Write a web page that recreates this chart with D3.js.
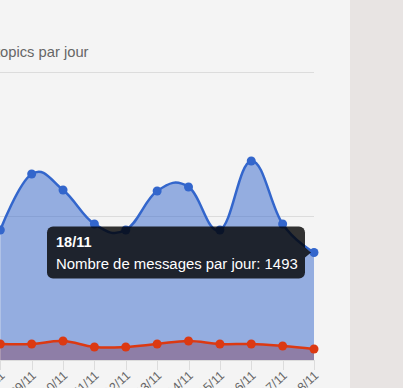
<!DOCTYPE html>
<html><head><meta charset="utf-8">
<script src="https://cdn.jsdelivr.net/npm/d3@7"></script>
<style>
html,body{margin:0;padding:0;background:#f4f4f4;overflow:hidden;}
svg{display:block;font-family:"Liberation Sans",Arial,sans-serif;}
</style></head><body>
<svg id="c" width="403" height="388"></svg>
<script>
const labels = ["08/11","09/11","10/11","11/11","12/11","13/11","14/11","15/11","16/11","17/11","18/11"];
const messages = [1806,2583,2361,1889,1806,2347,2403,1806,2764,1889,1493];
const topics = [222,222,264,181,181,222,264,222,222,194,153];
const yTicks = [0,2000,4000];
const legendText = "Nombre de topics par jour";
const tipTitle = "18/11";
const tipBody = "Nombre de messages par jour: 1493";

const svg = d3.select("#c");
svg.append("rect").attr("x",350).attr("y",0).attr("width",53).attr("height",388).attr("fill","#e8e4e3");

const x = d3.scalePoint().domain(labels).range([0.3,314]);
const y = d3.scaleLinear().domain([0,4000]).range([360,72]);

// gridlines
svg.append("g").selectAll("line").data(yTicks).join("line")
  .attr("x1",-50).attr("x2",314).attr("y1",d=>y(d)+0.5).attr("y2",d=>y(d)+0.5)
  .attr("stroke","#dcdcdc").attr("stroke-width",1);

// tick marks
svg.append("g").selectAll("line").data(labels).join("line")
  .attr("x1",d=>Math.round(x(d))+0.5).attr("x2",d=>Math.round(x(d))+0.5)
  .attr("y1",360).attr("y2",370).attr("stroke","#dcdcdc");

const curve = d3.curveCardinal.tension(-0.2);
const areaGen = vals => d3.area().x((d,i)=>x(labels[i])).y0(y(0)).y1(d=>y(d)).curve(curve)(vals);
const lineGen = vals => d3.line().x((d,i)=>x(labels[i])).y(d=>y(d)).curve(curve)(vals);

svg.append("path").attr("d",areaGen(topics)).attr("fill","rgba(220,57,18,0.5)");
svg.append("path").attr("d",areaGen(messages)).attr("fill","rgba(51,102,204,0.5)");
svg.append("path").attr("d",lineGen(messages)).attr("fill","none").attr("stroke","#3366cc").attr("stroke-width",2.5);
svg.append("path").attr("d",lineGen(topics)).attr("fill","none").attr("stroke","#dc3912").attr("stroke-width",2.5);

svg.append("g").selectAll("circle").data(messages).join("circle")
  .attr("cx",(d,i)=>x(labels[i])).attr("cy",d=>y(d)).attr("r",4.5).attr("fill","#3366cc");
svg.append("g").selectAll("circle").data(topics).join("circle")
  .attr("cx",(d,i)=>x(labels[i])).attr("cy",d=>y(d)).attr("r",4.5).attr("fill","#dc3912");

// x labels
svg.append("g").selectAll("text").data(labels).join("text")
  .attr("transform",d=>`translate(${x(d)+3},374) rotate(-43)`)
  .attr("text-anchor","end").attr("dominant-baseline","middle")
  .attr("font-size",12.5).attr("fill","#666").text(d=>d);

// legend: size so that visible tail "opics par jour" spans 0..88
const probe = svg.append("text").attr("font-size",14).text("opics par jour");
const w = probe.node().getComputedTextLength();
probe.remove();
const lfs = 14 * 88.5 / w;
svg.append("text").attr("x",88.5).attr("y",57).attr("text-anchor","end")
  .attr("font-size",lfs).attr("fill","#666").text(legendText);

// tooltip
const last = labels.length-1;
const px = x(labels[last]), py = y(messages[last]);
const tg = svg.append("g");
const bx=47, bw=258, bh=52, by=py-bh/2;
tg.append("rect").attr("x",bx).attr("y",by).attr("width",bw).attr("height",bh).attr("rx",6)
  .attr("fill","rgba(0,0,0,0.8)");
tg.append("path").attr("d",`M${bx+bw},${py-5}L${px-3},${py}L${bx+bw},${py+5}Z`).attr("fill","rgba(0,0,0,0.8)");
tg.append("text").attr("x",bx+9).attr("y",by+20).attr("font-size",14.5).attr("font-weight","bold").attr("fill","#fff").text(tipTitle);
tg.append("text").attr("x",bx+9).attr("y",by+42).attr("font-size",14.9).attr("fill","#fff").text(tipBody);
</script>
</body></html>
